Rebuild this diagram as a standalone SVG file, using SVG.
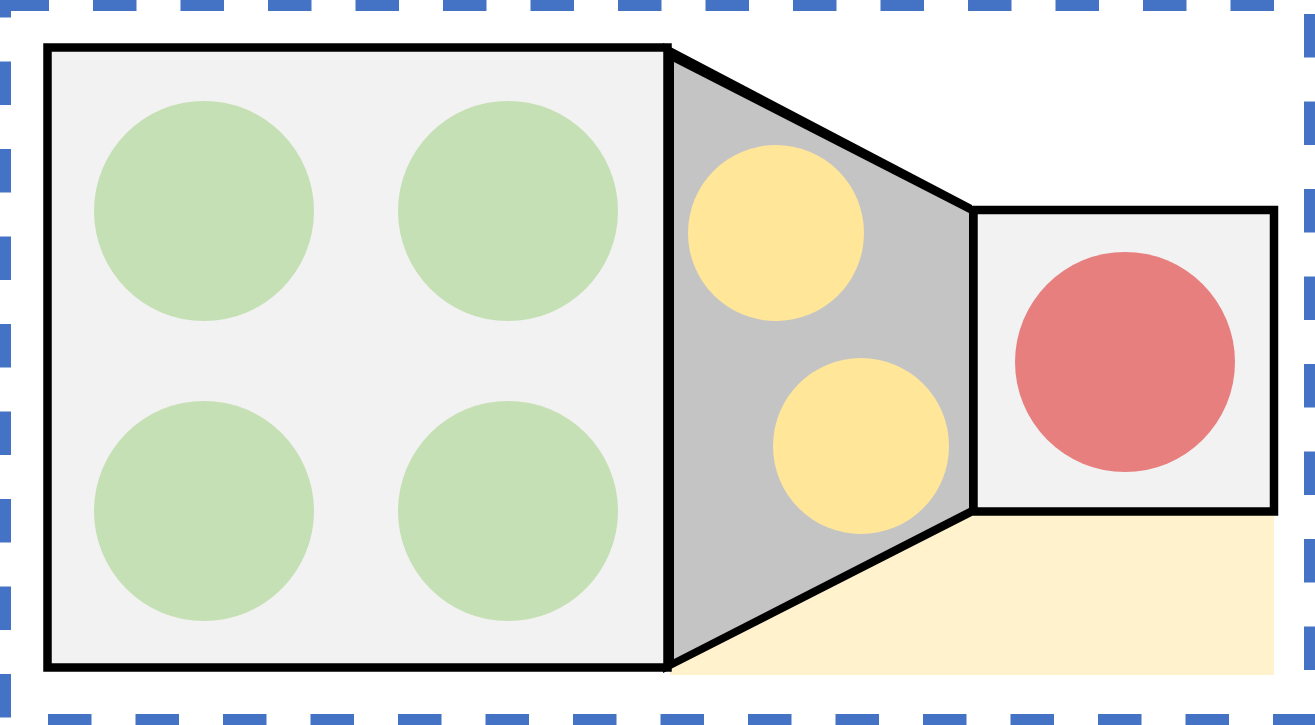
<svg xmlns="http://www.w3.org/2000/svg" width="1315" height="725" viewBox="0 0 1315 725">
<style>
.dash{stroke:#4472c4;stroke-width:11;stroke-dasharray:43.5 44;fill:none}
.box{fill:#f2f2f2;stroke:#000;stroke-width:8.5}
.green{fill:#c5e0b4}
.yellow{fill:#ffe699}
.red{fill:#e77f7f}
</style>
<rect width="1315" height="725" fill="#fff"/>
<g id="frame">
<line class="dash" x1="5.5" y1="5.5" x2="1315" y2="5.5"/>
<line class="dash" x1="1309.5" y1="14" x2="1309.5" y2="725"/>
<line class="dash" x1="48" y1="719.5" x2="1315" y2="719.5"/>
<line class="dash" x1="5.5" y1="-26" x2="5.5" y2="725"/>
</g>
<g id="base">
<rect x="670" y="511" width="604" height="164" fill="#fff2cc"/>
</g>
<g id="trapezoid">
<polygon points="663,43 972,205 972,516 663,673" fill="#000"/>
<polygon points="674,62 969,213 969,508 674,659" fill="#c4c4c4"/>
<circle class="yellow" cx="776" cy="233" r="88"/>
<circle class="yellow" cx="861" cy="446" r="88"/>
</g>
<g id="big-square">
<rect class="box" x="47.5" y="47.5" width="620" height="620"/>
<circle class="green" cx="204" cy="211" r="110"/>
<circle class="green" cx="508" cy="211" r="110"/>
<circle class="green" cx="204" cy="511" r="110"/>
<circle class="green" cx="508" cy="511" r="110"/>
</g>
<g id="small-square">
<rect class="box" x="973.5" y="210" width="300.5" height="301.5"/>
<circle class="red" cx="1125" cy="362" r="110"/>
</g>
<g id="connectors"/>
</svg>
